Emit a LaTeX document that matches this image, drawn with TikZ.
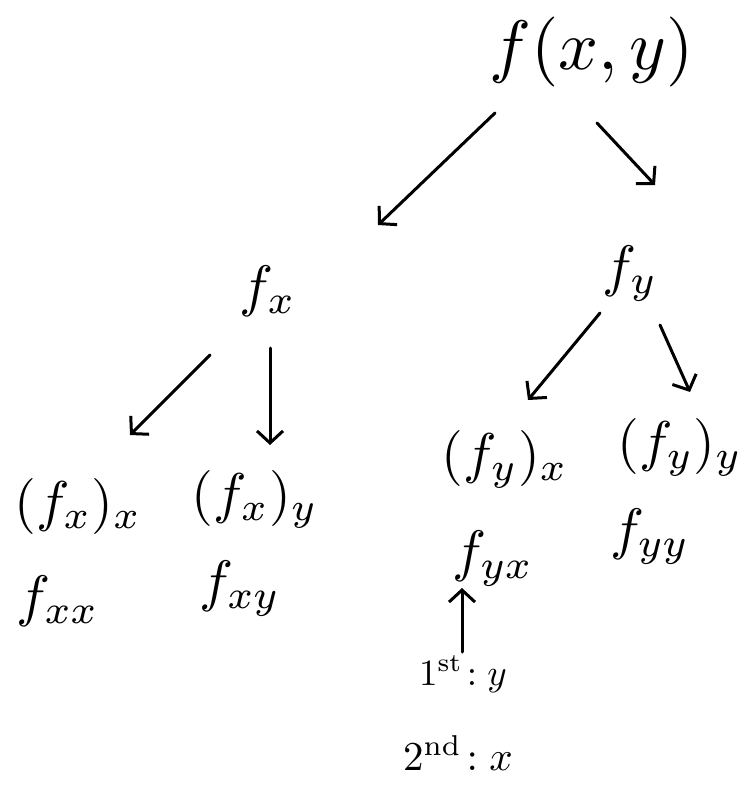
\documentclass[tikz,border=0pt]{standalone}
\usetikzlibrary{arrows.meta}
\begin{document}
\begin{tikzpicture}[x=1pt,y=-1pt,
  lbl/.style={anchor=base,inner sep=0pt,text=black},
  big/.style={lbl,scale=7},
  mid/.style={lbl,scale=5.7},
  term/.style={lbl,scale=5.6},
  small/.style={lbl,scale=3.7},
  arr/.style={line width=3pt,line cap=round,line join=round,
    -{Straight Barb[length=12pt,width=26pt,line width=3pt]}}]
\useasboundingbox[fill=white] (0,0) rectangle (745,786);

% the function and its first partials
\node[big] (top) at (592,70) {$f(x,y)$};
\node[mid] (fx) at (268,305) {$f_x$};
\node[mid] (fy) at (630,285) {$f_y$};

% second partials written as nested derivatives
\node[term] (pxx) at (78,520) {$(f_x)_x$};
\node[term] (pxy) at (255,512) {$(f_x)_y$};
\node[term] (pyx) at (505,472) {$(f_y)_x$};
\node[term] (pyy) at (680,460) {$(f_y)_y$};

% short notation
\node[mid] (fxx) at (58,615) {$f_{xx}$};
\node[mid] (fxy) at (240,600) {$f_{xy}$};
\node[mid] (fyx) at (493,570) {$f_{yx}$};
\node[mid] (fyy) at (650,548) {$f_{yy}$};

% order of differentiation
\node[small] (first) at (463,685) {$1^{\mathrm{st}}\!: y$};
\node[lbl,scale=4.1] (second) at (458,770) {$2^{\mathrm{nd}}\!: x$};

% connectors
\draw[arr] ([shift={(-97,43)}]top.base) -- ([shift={(110,-80)}]fx.base);
\draw[arr] ([shift={(5,53)}]top.base) -- ([shift={(25,-100)}]fy.base);
\draw[arr] ([shift={(-58,50)}]fx.base) -- ([shift={(52,-85)}]pxx.base);
\draw[arr] ([shift={(2,43)}]fx.base) -- ([shift={(15,-67)}]pxy.base);
\draw[arr] ([shift={(-30,28)}]fy.base) -- ([shift={(23,-72)}]pyx.base);
\draw[arr] ([shift={(30,40)}]fy.base) -- ([shift={(10,-68)}]pyy.base);
\draw[arr] ([shift={(-1,-33)}]first.base) -- ([shift={(-31,18)}]fyx.base);
\end{tikzpicture}
\end{document}
